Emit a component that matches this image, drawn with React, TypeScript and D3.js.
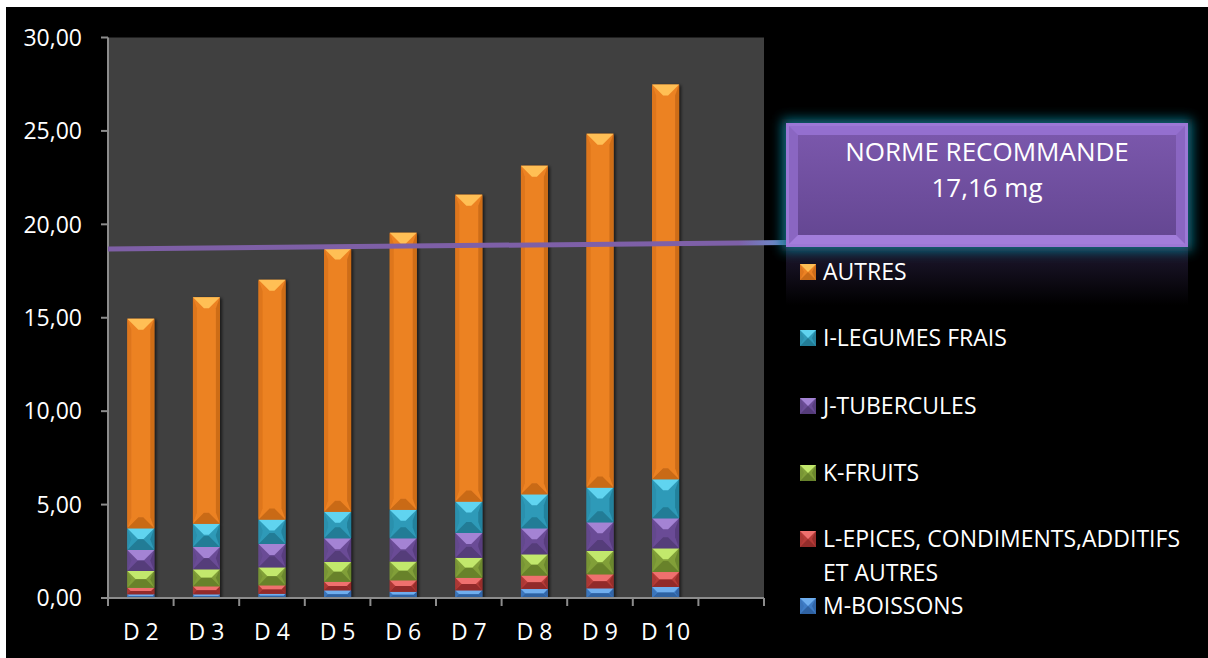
import React from "react";
import * as d3 from "d3";

// Categories (deciles) and an empty trailing slot on the category axis
const categories = ["D 2", "D 3", "D 4", "D 5", "D 6", "D 7", "D 8", "D 9", "D 10"];
const axisSlots = [...categories, "—"];

// Stacked contributions (mg), bottom to top
const boissons = [0.2, 0.2, 0.23, 0.41, 0.34, 0.41, 0.48, 0.52, 0.59];
const epices = [0.35, 0.43, 0.45, 0.46, 0.61, 0.68, 0.73, 0.75, 0.8];
const fruits = [0.9, 0.91, 0.96, 1.06, 1.01, 1.07, 1.13, 1.25, 1.27];
const tubercules = [1.12, 1.19, 1.25, 1.27, 1.24, 1.32, 1.39, 1.53, 1.61];
const legumes = [1.16, 1.25, 1.31, 1.42, 1.53, 1.68, 1.82, 1.86, 2.09];
const autres = [11.22, 12.12, 12.83, 14.08, 14.82, 16.43, 17.59, 18.94, 21.12];

const seriesKeys = ["M-BOISSONS", "L-EPICES", "K-FRUITS", "J-TUBERCULES", "I-LEGUMES", "AUTRES"];
const seriesValues = [boissons, epices, fruits, tubercules, legumes, autres];

// Legend entries, top to bottom (label lines)
const legendKeys = ["AUTRES", "I-LEGUMES", "J-TUBERCULES", "K-FRUITS", "L-EPICES", "M-BOISSONS"];
const legendLabels = [
  ["AUTRES"],
  ["I-LEGUMES FRAIS"],
  ["J-TUBERCULES"],
  ["K-FRUITS"],
  ["L-EPICES, CONDIMENTS,ADDITIFS", "ET AUTRES"],
  ["M-BOISSONS"],
];

const yTicks = [0, 5, 10, 15, 20, 25, 30];

// Recommended norm annotation
const normTitle = "NORME RECOMMANDE";
const normText = "17,16 mg";
// Hand-drawn reference line, start and end heights in axis units
const normLine = [18.68, 19.03];

const palette: Record<string, { base: string; light: string; dark: string; side: string }> = {
  "M-BOISSONS": { base: "#3f7cc6", light: "#6faeee", dark: "#2f62a2", side: "#3a74bb" },
  "L-EPICES": { base: "#b73b38", light: "#ef706e", dark: "#922c2a", side: "#ab3734" },
  "K-FRUITS": { base: "#819f39", light: "#c2e86c", dark: "#67822b", side: "#789535" },
  "J-TUBERCULES": { base: "#6b4c96", light: "#a483d4", dark: "#553c7a", side: "#64488d" },
  "I-LEGUMES": { base: "#2f9ab8", light: "#60d4f0", dark: "#227c96", side: "#2c90ad" },
  AUTRES: { base: "#ec8224", light: "#ffbf55", dark: "#c96a17", side: "#de761d" },
};

const W = 1208;
const H = 658;
const plot = { left: 108, right: 764, top: 37.5, bottom: 598 };
const FONT = "'Open Sans', 'Noto Sans', sans-serif";

const fmt = (v: number) => d3.format(".2f")(v).replace(".", ",");

function pts(p: number[][]) {
  return p.map((q) => q.join(",")).join(" ");
}

function BevelBox({ x, y, w, h, c }: { x: number; y: number; w: number; h: number; c: typeof palette[string] }) {
  if (h <= 0) return null;
  const dt = Math.min(w / 2, h / 2, 11);
  const ds = Math.min(w / 2, h / 2, 4);
  const half = w / 2;
  const inset = Math.max(0, half - dt);
  return (
    <g>
      <rect x={x} y={y} width={w} height={h} fill={c.base} />
      <polygon points={pts([[x, y], [x + ds, y + dt], [x + ds, y + h - dt], [x, y + h]])} fill={c.side} />
      <polygon points={pts([[x + w, y], [x + w - ds, y + dt], [x + w - ds, y + h - dt], [x + w, y + h]])} fill={c.dark} opacity={0.85} />
      <polygon points={pts([[x, y], [x + w, y], [x + half + inset, y + dt], [x + half - inset, y + dt]])} fill={c.light} />
      <polygon points={pts([[x, y + h], [x + w, y + h], [x + half + inset, y + h - dt], [x + half - inset, y + h - dt]])} fill={c.dark} />
    </g>
  );
}

export default function App() {
  const x = d3.scaleBand<string>().domain(axisSlots).range([plot.left, plot.right]).padding(0);
  const y = d3.scaleLinear().domain([0, 30]).range([plot.bottom, plot.top]);
  const barW = x.bandwidth() * 0.41;

  const rows = categories.map((cat, i) => {
    const r: Record<string, number | string> = { cat };
    seriesKeys.forEach((k, j) => (r[k] = seriesValues[j][i]));
    return r;
  });
  const stacked = d3.stack<Record<string, number | string>>().keys(seriesKeys)(rows as any);

  const boxX = 786, boxY = 123, boxW = 402, boxH = 124;
  const legendX = 800;
  const legendYs = [272, 338, 406, 473, 539, 606];

  return (
    <svg width={W} height={H} style={{ position: "absolute", left: 0, top: 0 }} fontFamily={FONT}>
      <defs>
        <filter id="shadow" x="-30%" y="-5%" width="160%" height="110%">
          <feDropShadow dx="2" dy="1" stdDeviation="1.5" floodColor="#000" floodOpacity="0.6" />
        </filter>
        <filter id="glow" x="-10%" y="-30%" width="120%" height="160%">
          <feGaussianBlur stdDeviation="6" />
        </filter>
        <linearGradient id="boxFill" x1="0" y1="0" x2="0" y2="1">
          <stop offset="0" stopColor="#7a57ab" />
          <stop offset="1" stopColor="#654793" />
        </linearGradient>
        <linearGradient id="reflect" x1="0" y1="0" x2="0" y2="1">
          <stop offset="0" stopColor="#1e1830" />
          <stop offset="0.5" stopColor="#100c18" />
          <stop offset="1" stopColor="#000000" />
        </linearGradient>
        <linearGradient id="lineGrad" x1="0" y1="0" x2="1" y2="0">
          <stop offset="0" stopColor="#7e5fa6" />
          <stop offset="0.93" stopColor="#7e60a8" />
          <stop offset="1" stopColor="#6a92d0" />
        </linearGradient>
      </defs>

      <rect x={0} y={0} width={W} height={H} fill="#ffffff" />
      <rect x={6} y={7} width={W - 6} height={H - 7} fill="#000000" />

      {/* plot background */}
      <rect x={plot.left} y={plot.top} width={plot.right - plot.left} height={plot.bottom - plot.top} fill="#404040" />

      {/* stacked bars */}
      <g filter="url(#shadow)">
        {stacked.map((layer) =>
          layer.map((d, i) => {
            const cx = (x(categories[i]) as number) + x.bandwidth() / 2;
            const y0 = y(d[0]);
            const y1 = y(d[1]);
            return <BevelBox key={layer.key + i} x={cx - barW / 2} y={y1} w={barW} h={y0 - y1} c={palette[layer.key]} />;
          })
        )}
      </g>

      {/* axes */}
      <line x1={plot.left} x2={plot.left} y1={plot.top} y2={plot.bottom + 1} stroke="#8c8c8c" strokeWidth={2} />
      {yTicks.map((t) => (
        <g key={t}>
          <line x1={plot.left - 7} x2={plot.left} y1={y(t)} y2={y(t)} stroke="#8c8c8c" strokeWidth={2} />
          <text x={82} y={y(t)} dy="0.36em" textAnchor="end" fill="#ffffff" fontSize={23}>
            {fmt(t)}
          </text>
        </g>
      ))}
      <line x1={plot.left} x2={plot.right} y1={plot.bottom} y2={plot.bottom} stroke="#8c8c8c" strokeWidth={2} />
      {axisSlots.map((s) => (
        <line key={s} x1={x(s) as number} x2={x(s) as number} y1={plot.bottom} y2={plot.bottom + 8} stroke="#8c8c8c" strokeWidth={2} />
      ))}
      <line x1={plot.right} x2={plot.right} y1={plot.bottom} y2={plot.bottom + 8} stroke="#8c8c8c" strokeWidth={2} />
      {categories.map((c) => (
        <text key={c} x={(x(c) as number) + x.bandwidth() / 2} y={640} textAnchor="middle" fill="#ffffff" fontSize={23}>
          {c}
        </text>
      ))}

      {/* norm line */}
      <line x1={plot.left} x2={boxX} y1={y(normLine[0])} y2={y(normLine[1])} stroke="url(#lineGrad)" strokeWidth={5} />

      {/* norm label box with glow and reflection */}
      <rect x={boxX} y={boxY + boxH} width={boxW} height={58} fill="url(#reflect)" />
      <rect x={boxX - 4} y={boxY - 4} width={boxW + 8} height={boxH + 8} fill="#0c6c80" filter="url(#glow)" />
      <rect x={boxX} y={boxY} width={boxW} height={boxH} fill="#9c78d6" />
      <rect x={boxX + 3} y={boxY + 3} width={boxW - 6} height={boxH - 6} fill="#8a66c2" />
      <polygon points={pts([[boxX + 3, boxY + boxH - 3], [boxX + boxW - 3, boxY + boxH - 3], [boxX + boxW - 12, boxY + boxH - 12], [boxX + 12, boxY + boxH - 12]])} fill="#a27ddb" />
      <polygon points={pts([[boxX + 3, boxY + 3], [boxX + boxW - 3, boxY + 3], [boxX + boxW - 12, boxY + 12], [boxX + 12, boxY + 12]])} fill="#946fcf" />
      <rect x={boxX + 12} y={boxY + 12} width={boxW - 24} height={boxH - 24} fill="url(#boxFill)" />
      <text x={boxX + boxW / 2} y={161} textAnchor="middle" fill="#ffffff" fontSize={26}>
        {normTitle}
      </text>
      <text x={boxX + boxW / 2} y={197} textAnchor="middle" fill="#ffffff" fontSize={26}>
        {normText}
      </text>

      {/* legend */}
      {legendKeys.map((k, i) => (
        <g key={k}>
          <BevelBox x={legendX} y={legendYs[i] - 8} w={16} h={16} c={palette[k]} />
          {legendLabels[i].map((line, j) => (
            <text key={j} x={823} y={legendYs[i] + j * 34} dy="0.36em" fill="#ffffff" fontSize={23}>
              {line}
            </text>
          ))}
        </g>
      ))}
    </svg>
  );
}
